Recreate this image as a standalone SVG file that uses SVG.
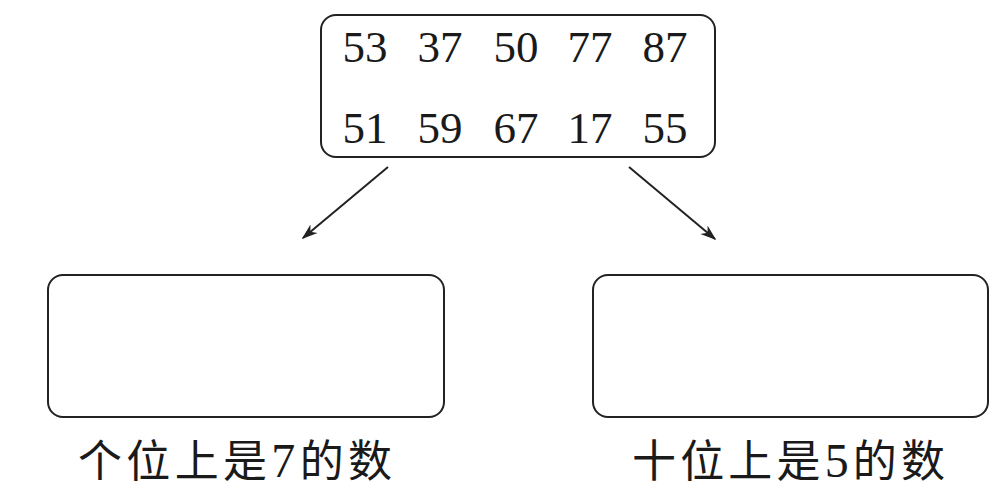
<svg xmlns="http://www.w3.org/2000/svg" width="1004" height="493" viewBox="0 0 1004 493">
<defs>
<style>
.box{fill:#fff;stroke:#222;stroke-width:2}
.num{font-family:"Liberation Serif",serif;font-size:45px;fill:#1a1a1a;text-anchor:middle}
.lbl{font-family:"Noto Sans CJK SC",sans-serif;font-size:44px;fill:#1a1a1a}
.dig{font-family:"Liberation Serif",serif;font-size:48px}
.conn{stroke:#222;stroke-width:2;fill:none;marker-end:url(#ah)}
</style>
<marker id="ah" viewBox="0 0 10 10" refX="9" refY="5" markerWidth="16" markerHeight="16" markerUnits="userSpaceOnUse" orient="auto">
<path d="M0,1.5 L10,5 L0,8.5 L3,5 Z" fill="#222"/>
</marker>
</defs>
<rect width="1004" height="493" fill="#fff"/>
<g id="top">
<rect class="box" x="321" y="15" width="394" height="142" rx="15"/>
<text class="num" y="62"><tspan x="365">53</tspan><tspan x="440">37</tspan><tspan x="516">50</tspan><tspan x="590">77</tspan><tspan x="665">87</tspan></text>
<text class="num" y="143"><tspan x="365">51</tspan><tspan x="440">59</tspan><tspan x="516">67</tspan><tspan x="590">17</tspan><tspan x="665">55</tspan></text>
</g>
<g id="connectors">
<line class="conn" x1="388" y1="167" x2="303" y2="238"/>
<line class="conn" x1="629" y1="167" x2="715" y2="239"/>
</g>
<g id="left">
<rect class="box" x="48" y="275" width="396" height="142" rx="15"/>
<text class="lbl" x="78" y="477" textLength="314" lengthAdjust="spacing">个位上是<tspan class="dig">7</tspan>的数</text>
</g>
<g id="right">
<rect class="box" x="593" y="275" width="395" height="142" rx="15"/>
<text class="lbl" x="632" y="477" textLength="313" lengthAdjust="spacing">十位上是<tspan class="dig">5</tspan>的数</text>
</g>
</svg>
